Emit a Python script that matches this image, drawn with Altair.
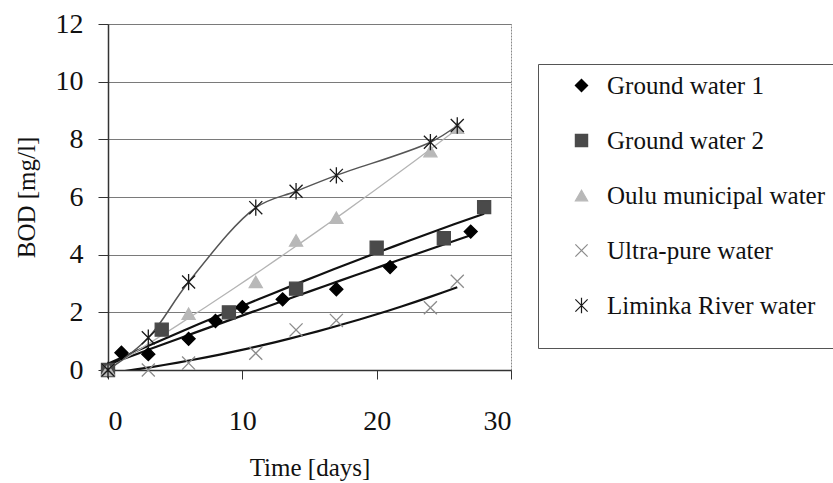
import altair as alt
import pandas as pd

series_names = ["Ground water 1", "Ground water 2", "Oulu municipal water",
                "Ultra-pure water", "Liminka River water"]

gw1_days = [0, 1, 3, 6, 8, 10, 13, 17, 21, 27]
gw1_bod = [0, 0.6, 0.55, 1.08, 1.7, 2.18, 2.45, 2.8, 3.57, 4.8]

gw2_days = [0, 4, 9, 14, 20, 25, 28]
gw2_bod = [0, 1.4, 2.0, 2.82, 4.24, 4.57, 5.65]

oulu_days = [0, 6, 11, 14, 17, 24, 26]
oulu_bod = [0, 1.95, 3.05, 4.49, 5.28, 7.59, 8.4]

up_days = [0, 3, 6, 11, 14, 17, 24, 26]
up_bod = [0, 0.0, 0.24, 0.58, 1.39, 1.72, 2.16, 3.08]

lim_days = [0, 3, 6, 11, 14, 17, 24, 26]
lim_bod = [0, 1.12, 3.05, 5.63, 6.2, 6.75, 7.9, 8.48]

x_ticks = [0, 10, 20, 30]
y_ticks = [0, 2, 4, 6, 8, 10, 12]

rows = []
for name, ds, bs in zip(series_names,
                        [gw1_days, gw2_days, oulu_days, up_days, lim_days],
                        [gw1_bod, gw2_bod, oulu_bod, up_bod, lim_bod]):
    for d, b in zip(ds, bs):
        rows.append({"series": name, "day": d, "bod": b})
df = pd.DataFrame(rows)

FONT = "Liberation Serif"
X_SHAPE = "M-1,-1L1,1M-1,1L1,-1"
AST_SHAPE = "M-1,-1L1,1M-1,1L1,-1M0,-1.25L0,1.25"

xenc = alt.X("day:Q", scale=alt.Scale(domain=[0, 30], nice=False),
             axis=alt.Axis(values=x_ticks, title="Time [days]", grid=False,
                           tickSize=9, labelPadding=28, titlePadding=20,
                           labelFont=FONT, titleFont=FONT))
yenc = alt.Y("bod:Q", scale=alt.Scale(domain=[0, 12], nice=False),
             axis=alt.Axis(values=y_ticks, title="BOD [mg/l]", grid=True,
                           tickSize=10, labelPadding=15, titlePadding=16,
                           labelFont=FONT, titleFont=FONT))

base = alt.Chart(df)

def trend(names, order, color, width):
    return base.transform_filter(
        alt.FieldOneOfPredicate(field="series", oneOf=names)
    ).transform_regression(
        "day", "bod", method="poly", order=order, groupby=["series"]
    ).mark_line(clip=True, strokeWidth=width, color=color).encode(
        x=xenc, y=yenc, detail="series:N")

thick = trend(["Ground water 1", "Ground water 2", "Ultra-pure water"], 2, "#111111", 2.2)
oulu_line = trend(["Oulu municipal water"], 2, "#b4b4b4", 1.3)
lim_line = base.transform_filter(
    alt.datum.series == "Liminka River water"
).mark_line(clip=True, strokeWidth=1.5, color="#555555", interpolate="catmull-rom").encode(
    x=xenc, y=yenc)

leg = alt.Legend(title=" ", labelFont=FONT, titleFont=FONT)

points = base.mark_point(size=170, strokeWidth=1.3, opacity=1, filled=False).encode(
    x=xenc, y=yenc,
    shape=alt.Shape("series:N", scale=alt.Scale(
        domain=series_names,
        range=["diamond", "square", "triangle-up", X_SHAPE, AST_SHAPE]),
        legend=leg),
    fill=alt.Fill("series:N", scale=alt.Scale(
        domain=series_names,
        range=["#000000", "#4a4a4a", "#b8b8b8", "transparent", "transparent"]),
        legend=leg),
    stroke=alt.Stroke("series:N", scale=alt.Scale(
        domain=series_names,
        range=["#000000", "#4a4a4a", "#b8b8b8", "#8c8c8c", "#1a1a1a"]),
        legend=leg),
)

chart = alt.layer(thick, oulu_line, lim_line, points).properties(
    width=403, height=346,
    autosize=alt.AutoSizeParams(type="none"),
    padding={"left": 108, "top": 24, "right": 322, "bottom": 113},
    background="white",
).configure(
    font=FONT
).configure_view(
    stroke="#8a8a8a", strokeWidth=1, strokeDash=[2, 1]
).configure_axis(
    labelFont=FONT, titleFont=FONT, labelFontSize=28, titleFontSize=25,
    labelColor="#111111", titleColor="#111111", titleFontWeight="normal",
    domainColor="#333333", domainWidth=1.5, tickColor="#333333", tickWidth=1,
    gridColor="#7a7a7a", gridWidth=1,
).configure_legend(
    orient="none", legendX=430, legendY=40,
    labelFont=FONT, labelFontSize=25, labelColor="#111111", labelLimit=500,
    titleFont=FONT, titleFontSize=20, titleOrient="bottom", titlePadding=0,
    strokeColor="#555555", padding=9, rowPadding=29,
    symbolOffset=22, labelOffset=13, symbolSize=150, symbolStrokeWidth=1.2,
)

chart.save("out.html", embed_options={"renderer": "svg", "actions": False})
